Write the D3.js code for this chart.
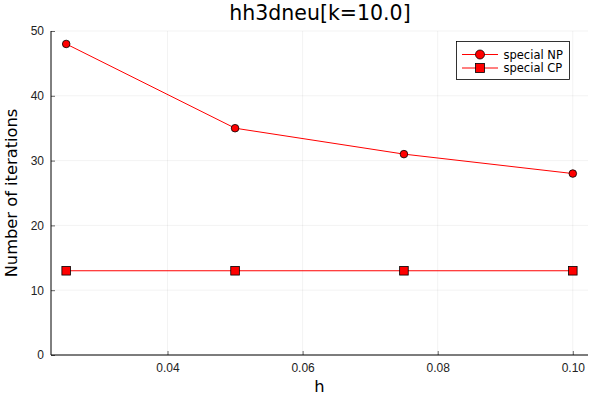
<!DOCTYPE html>
<html><head><meta charset="utf-8">
<script src="https://cdn.jsdelivr.net/npm/d3@7"></script>
<style>body{margin:0;background:#fff;} svg{display:block;font-family:"DejaVu Sans",sans-serif;}</style>
</head><body>
<script>
const hValues = [0.025, 0.05, 0.075, 0.1];
const specialNP = [48, 35, 31, 28];
const specialCP = [13, 13, 13, 13];
const xTicks = [0.04, 0.06, 0.08, 0.10];
const yTicks = [0, 10, 20, 30, 40, 50];
const seriesNames = ["special NP", "special CP"];

const W = 600, H = 400;
const svg = d3.select("body").append("svg").attr("width", W).attr("height", H);
const L = 51, R = 588, T = 31, B = 355;
const x = d3.scaleLinear().domain([0.025 - 0.075*0.03, 0.1 + 0.075*0.03]).range([L, R]);
const y = d3.scaleLinear().domain([0, 50]).range([B, T]);

// grid
svg.append("g").selectAll("line").data(xTicks).join("line")
  .attr("x1", d => x(d)).attr("x2", d => x(d)).attr("y1", T).attr("y2", B)
  .attr("stroke", "#000").attr("stroke-opacity", 0.1).attr("stroke-width", 0.5);
svg.append("g").selectAll("line").data(yTicks).join("line")
  .attr("x1", L).attr("x2", R).attr("y1", d => y(d)).attr("y2", d => y(d))
  .attr("stroke", "#000").attr("stroke-opacity", 0.1).attr("stroke-width", 0.5);

// axes
const xAxis = d3.axisBottom(x).tickValues(xTicks).tickFormat(d3.format(".2f")).tickSize(-4).tickSizeOuter(0).tickPadding(0);
const gx = svg.append("g").attr("transform", `translate(0,${B})`).call(xAxis);
gx.select(".domain").attr("d", `M${L},0H${R}`).attr("stroke", "#000");
gx.selectAll(".tick line").attr("stroke", "#000").attr("stroke-opacity", 0.6);
gx.selectAll("text").attr("font-size", 12).attr("fill", "#222").attr("y", 17).attr("dy", 0);

const yAxis = d3.axisLeft(y).tickValues(yTicks).tickSize(-4).tickSizeOuter(0).tickPadding(0);
const gy = svg.append("g").attr("transform", `translate(${L},0)`).call(yAxis);
gy.select(".domain").attr("d", `M0,${B}V${T}`).attr("stroke", "#000");
gy.selectAll(".tick line").attr("stroke", "#000").attr("stroke-opacity", 0.6);
gy.selectAll("text").attr("font-size", 12).attr("fill", "#222").attr("x", -7);
svg.selectAll(".domain").attr("stroke-width", 1);

// lines
const line = d3.line().x(d => x(d[0])).y(d => y(d[1]));
const np = hValues.map((h, i) => [h, specialNP[i]]);
const cp = hValues.map((h, i) => [h, specialCP[i]]);
svg.append("path").attr("d", line(np)).attr("fill", "none").attr("stroke", "red").attr("stroke-width", 1);
svg.append("path").attr("d", line(cp)).attr("fill", "none").attr("stroke", "red").attr("stroke-width", 1);
svg.append("g").selectAll("circle").data(np).join("circle")
  .attr("cx", d => x(d[0])).attr("cy", d => y(d[1])).attr("r", 3.8)
  .attr("fill", "red").attr("stroke", "#000").attr("stroke-width", 0.8);
svg.append("g").selectAll("rect").data(cp).join("rect")
  .attr("x", d => x(d[0]) - 4.3).attr("y", d => y(d[1]) - 4.3).attr("width", 8.6).attr("height", 8.6)
  .attr("fill", "red").attr("stroke", "#000").attr("stroke-width", 0.8);

// title & labels
svg.append("text").attr("x", 320).attr("y", 19.5).attr("text-anchor", "middle")
  .attr("font-size", 20.5).attr("fill", "#000").text("hh3dneu[k=10.0]");
svg.append("text").attr("x", 319.5).attr("y", 392).attr("text-anchor", "middle")
  .attr("font-size", 16.3).attr("fill", "#000").text("h");
svg.append("text").attr("transform", `translate(16.5,193) rotate(-90)`).attr("text-anchor", "middle")
  .attr("font-size", 16.3).attr("fill", "#000").text("Number of iterations");

// legend
const lg = svg.append("g");
lg.append("rect").attr("x", 456.5).attr("y", 41.5).attr("width", 113).attr("height", 38)
  .attr("fill", "#fff").attr("stroke", "#000").attr("stroke-width", 0.8);
seriesNames.forEach((name, i) => {
  const yy = 54.5 + i * 13.5;
  lg.append("line").attr("x1", 462).attr("x2", 498).attr("y1", yy).attr("y2", yy).attr("stroke", "red");
  if (i === 0) lg.append("circle").attr("cx", 480).attr("cy", yy).attr("r", 4.5).attr("fill", "red").attr("stroke", "#000").attr("stroke-width", 0.8);
  else lg.append("rect").attr("x", 475.5).attr("y", yy - 4.5).attr("width", 9).attr("height", 9).attr("fill", "red").attr("stroke", "#000").attr("stroke-width", 0.8);
  lg.append("text").attr("x", 503.5).attr("y", yy).attr("dy", "0.35em").attr("font-size", 11.5).attr("fill", "#000").text(name);
});
</script>
</body></html>
